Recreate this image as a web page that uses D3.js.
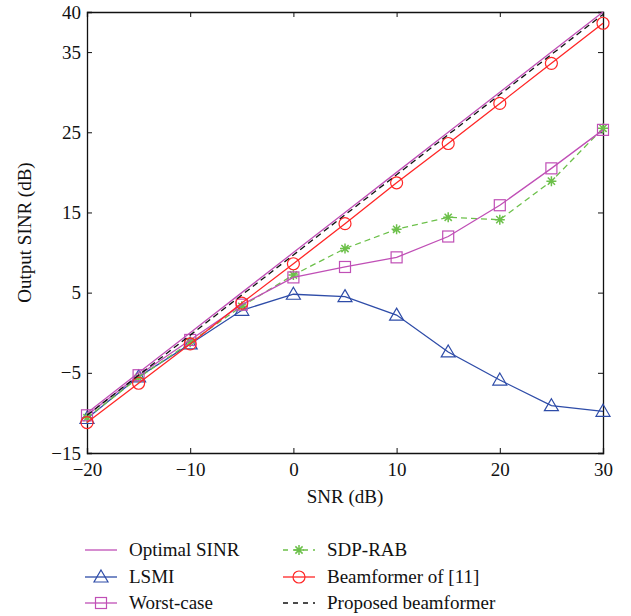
<!DOCTYPE html>
<html>
<head>
<meta charset="utf-8">
<script src="https://cdn.jsdelivr.net/npm/d3@7"></script>
<style>
  body { margin: 0; background: #fff; }
  text { font-family: "Liberation Serif", "DejaVu Serif", serif; fill: #111; }
</style>
</head>
<body>
<div id="chart"></div>
<script>
// SNR values (dB)
const snr = [-20, -15, -10, -5, 0, 5, 10, 15, 20, 25, 30];

// output SINR (dB) for each method
const optimal   = [-10, -5, 0, 5, 10, 15, 20, 25, 30, 35, 40];
const lsmi      = [-10.7, -5.5, -1.4, 2.8, 4.8, 4.5, 2.2, -2.4, -5.9, -9.1, -9.8];
const worstCase = [-10.3, -5.3, -0.9, 3.5, 6.9, 8.2, 9.4, 12.0, 15.9, 20.5, 25.3];
const sdpRab    = [-10.6, -5.6, -1.2, 3.3, 7.2, 10.5, 12.9, 14.4, 14.1, 18.9, 25.5];
const ref11     = [-11.2, -6.3, -1.4, 3.7, 8.6, 13.6, 18.7, 23.6, 28.6, 33.6, 38.6];
const proposed  = [-10.3, -5.3, -0.3, 4.7, 9.7, 14.7, 19.7, 24.7, 29.7, 34.7, 39.7];

const xTicks = [-20, -10, 0, 10, 20, 30];
const yTicks = [-15, -5, 5, 15, 25, 35, 40];

const series = [
  { name: "Optimal SINR", values: optimal, color: "#c04fb6", dash: null, marker: null },
  { name: "LSMI", values: lsmi, color: "#2e4ca8", dash: null, marker: "triangle" },
  { name: "Worst-case", values: worstCase, color: "#c04fb6", dash: null, marker: "square" },
  { name: "SDP-RAB", values: sdpRab, color: "#6cc04a", dash: "6,4", marker: "star" },
  { name: "Beamformer of [11]", values: ref11, color: "#ff2626", dash: null, marker: "circle" },
  { name: "Proposed beamformer", values: proposed, color: "#111", dash: "6,4", marker: null }
];

const width = 631, height = 616;
const margin = { top: 12, right: 28, bottom: 163, left: 87 };
const innerW = width - margin.left - margin.right;
const innerH = height - margin.top - margin.bottom;

const svg = d3.select("#chart").append("svg")
  .attr("width", width)
  .attr("height", height);

const chart = svg.append("g")
  .attr("transform", `translate(${margin.left},${margin.top})`);

const x = d3.scaleLinear().domain([-20, 30]).range([0, innerW]);
const y = d3.scaleLinear().domain([-15, 40]).range([innerH, 0]);

const fmt = d => d < 0 ? "\u2212" + Math.abs(d) : d;

// axes with inward ticks, mirrored on top and right
const tickLen = 5;
chart.append("g")
  .attr("transform", `translate(0,${innerH})`)
  .call(d3.axisBottom(x).tickValues(xTicks).tickSize(-tickLen).tickPadding(10).tickFormat(fmt))
  .call(g => g.selectAll("text").attr("font-size", 19));
chart.append("g")
  .call(d3.axisTop(x).tickValues(xTicks).tickSize(-tickLen).tickFormat(""));
chart.append("g")
  .call(d3.axisLeft(y).tickValues(yTicks).tickSize(-tickLen).tickPadding(6).tickFormat(fmt))
  .call(g => g.selectAll("text").attr("font-size", 19));
chart.append("g")
  .attr("transform", `translate(${innerW},0)`)
  .call(d3.axisRight(y).tickValues(yTicks).tickSize(-tickLen).tickFormat(""));

chart.selectAll(".domain").attr("stroke", "#111").attr("stroke-width", 1.3);
chart.selectAll(".tick line").attr("stroke", "#111");
chart.selectAll(".tick text").attr("fill", "#111").attr("font-family", "Liberation Serif, serif");

// axis labels
svg.append("text")
  .attr("x", margin.left + innerW / 2)
  .attr("y", 503)
  .attr("text-anchor", "middle")
  .attr("font-size", 19)
  .text("SNR (dB)");
svg.append("text")
  .attr("transform", `translate(31,${margin.top + innerH / 2}) rotate(-90)`)
  .attr("text-anchor", "middle")
  .attr("font-size", 19)
  .text("Output SINR (dB)");

function drawMarker(g, type, cx, cy, color) {
  if (type === "circle") {
    g.append("circle").attr("cx", cx).attr("cy", cy).attr("r", 6)
      .attr("fill", "none").attr("stroke", color).attr("stroke-width", 1.2);
  } else if (type === "square") {
    g.append("rect").attr("x", cx - 5.5).attr("y", cy - 5.5).attr("width", 11).attr("height", 11)
      .attr("fill", "none").attr("stroke", color).attr("stroke-width", 1.2);
  } else if (type === "triangle") {
    g.append("path")
      .attr("d", `M${cx},${cy - 7}L${cx + 7},${cy + 5}L${cx - 7},${cy + 5}Z`)
      .attr("fill", "none").attr("stroke", color).attr("stroke-width", 1.2);
  } else if (type === "star") {
    const r = 5;
    const d = r * 0.72;
    g.append("path")
      .attr("d", `M${cx - r},${cy}L${cx + r},${cy}M${cx},${cy - r}L${cx},${cy + r}` +
        `M${cx - d},${cy - d}L${cx + d},${cy + d}M${cx - d},${cy + d}L${cx + d},${cy - d}`)
      .attr("stroke", color).attr("stroke-width", 1.5);
  }
}

const line = d3.line().x((d, i) => x(snr[i])).y(d => y(d));

const plot = chart.append("g");
// draw order so the reference's top lines sit on top
const drawOrder = [1, 3, 2, 4, 5, 0];
drawOrder.forEach(idx => {
  const s = series[idx];
  const g = plot.append("g");
  g.append("path")
    .datum(s.values)
    .attr("d", line)
    .attr("fill", "none")
    .attr("stroke", s.color)
    .attr("stroke-width", 1.3)
    .attr("stroke-dasharray", s.dash);
  if (s.marker) {
    s.values.forEach((v, i) => drawMarker(g, s.marker, x(snr[i]), y(v), s.color));
  }
});

// legend: two columns, three rows
const legend = svg.append("g");
const colX = [85, 283];
const rowY = [550, 577, 603];
series.forEach((s, i) => {
  const col = Math.floor(i / 3), row = i % 3;
  const g = legend.append("g");
  const x0 = colX[col], yy = rowY[row];
  g.append("line")
    .attr("x1", x0).attr("x2", x0 + 32)
    .attr("y1", yy).attr("y2", yy)
    .attr("stroke", s.color).attr("stroke-width", 1.3)
    .attr("stroke-dasharray", s.dash ? "5,5" : null);
  if (s.marker) drawMarker(g, s.marker, x0 + 16, yy, s.color);
  g.append("text")
    .attr("x", x0 + 44)
    .attr("y", yy + 6)
    .attr("font-size", 19)
    .text(s.name);
});
</script>
</body>
</html>
